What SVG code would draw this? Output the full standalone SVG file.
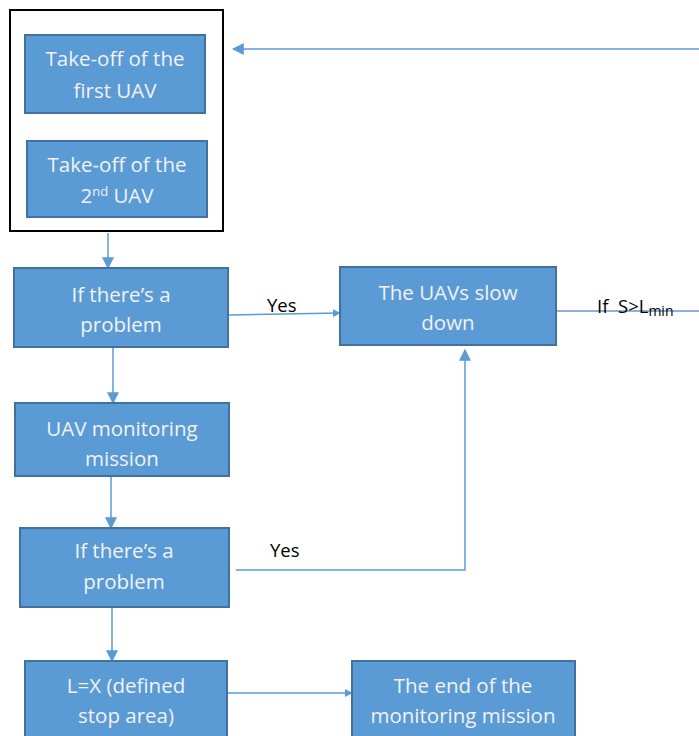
<svg xmlns="http://www.w3.org/2000/svg" width="699" height="736" viewBox="0 0 699 736">
<style>
.box{fill:#5b9bd5;stroke:#41719c;stroke-width:2}
.t{font-family:"Open Sans","Liberation Sans",Arial,sans-serif;font-size:20.5px;fill:#f2f2f2;text-anchor:middle}
.lbl{font-family:"Open Sans","Liberation Sans",Arial,sans-serif;font-size:18.5px;fill:#000}
.c{fill:none;stroke:#5b9bd5;stroke-width:1.5}
</style>
<defs>
<marker id="ah" viewBox="0 0 10 10" refX="9" refY="5" markerWidth="8" markerHeight="8" markerUnits="userSpaceOnUse" orient="auto">
<path d="M0,0 L10,5 L0,10 z" fill="#5b9bd5"/>
</marker>
<marker id="ahL" viewBox="0 0 10 10" refX="9" refY="5" markerWidth="12" markerHeight="12" markerUnits="userSpaceOnUse" orient="auto">
<path d="M0,0 L10,5 L0,10 z" fill="#5b9bd5"/>
</marker>
</defs>
<rect x="0" y="0" width="699" height="736" fill="#fff"/>
<g id="connectors">
<path class="c" d="M699,49 L233,49" marker-end="url(#ahL)"/>
<path class="c" d="M108,233 L108,268" marker-end="url(#ahL)"/>
<path class="c" d="M229,315 L340,313" marker-end="url(#ah)"/>
<path class="c" d="M557,311 L699,311"/>
<path class="c" d="M113,348 L113,403" marker-end="url(#ahL)"/>
<path class="c" d="M111,477 L111,528" marker-end="url(#ahL)"/>
<path class="c" d="M236,570 L465,570 L465,350" marker-end="url(#ahL)"/>
<path class="c" d="M112,608 L112,661" marker-end="url(#ahL)"/>
<path class="c" d="M228,693 L352,693" marker-end="url(#ah)"/>
<text class="lbl" x="267" y="312">Yes</text>
<text class="lbl" x="270" y="557">Yes</text>
<text class="lbl" x="597" y="313" xml:space="preserve">If  S&gt;L<tspan font-size="14" dy="3">min</tspan></text>
</g>
<g id="frame">
<rect x="10" y="10" width="213" height="221" fill="none" stroke="#000" stroke-width="2"/>
</g>
<g id="n1">
<rect class="box" x="25" y="35" width="180" height="78"/>
<text class="t" x="115" y="66">Take-off of the</text>
<text class="t" x="115" y="98">first UAV</text>
</g>
<g id="n2">
<rect class="box" x="27" y="141" width="180" height="76"/>
<text class="t" x="117" y="172">Take-off of the</text>
<text class="t" x="117" y="203">2<tspan font-size="13" dy="-7">nd</tspan><tspan dy="7"> UAV</tspan></text>
</g>
<g id="n3">
<rect class="box" x="14" y="268" width="214" height="79"/>
<text class="t" x="121" y="302">If there’s a</text>
<text class="t" x="121" y="332">problem</text>
</g>
<g id="n4">
<rect class="box" x="340" y="267" width="216" height="78"/>
<text class="t" x="448" y="300">The UAVs slow</text>
<text class="t" x="448" y="330">down</text>
</g>
<g id="n5">
<rect class="box" x="15" y="403" width="214" height="73"/>
<text class="t" x="122" y="436">UAV monitoring</text>
<text class="t" x="122" y="466">mission</text>
</g>
<g id="n6">
<rect class="box" x="20" y="528" width="209" height="79"/>
<text class="t" x="124" y="558">If there’s a</text>
<text class="t" x="124" y="589">problem</text>
</g>
<g id="n7">
<rect class="box" x="25" y="661" width="202" height="80"/>
<text class="t" x="126" y="693">L=X (defined</text>
<text class="t" x="126" y="723">stop area)</text>
</g>
<g id="n8">
<rect class="box" x="352" y="661" width="223" height="80"/>
<text class="t" x="463" y="693">The end of the</text>
<text class="t" x="463" y="723">monitoring mission</text>
</g>
</svg>
